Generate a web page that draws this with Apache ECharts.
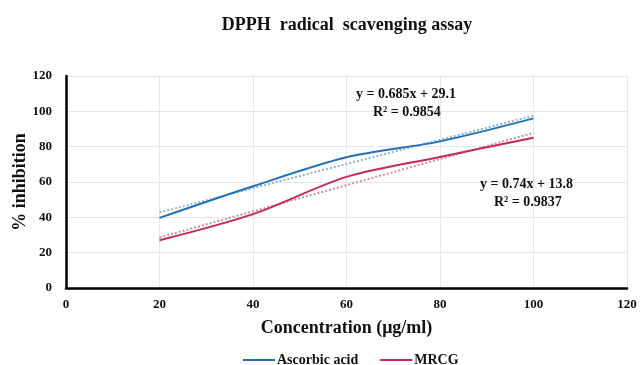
<!DOCTYPE html>
<html>
<head>
<meta charset="utf-8">
<script src="https://cdn.jsdelivr.net/npm/echarts@6/dist/echarts.min.js"></script>
<style>
  html, body { margin: 0; padding: 0; background: #fff; }
  #chart { width: 640px; height: 365px; }
</style>
</head>
<body>
<div id="chart"></div>
<script>
const concentration = [20, 40, 60, 80, 100];
const ascorbicAcid = [39.7, 57.6, 74.0, 83.0, 96.0];
const mrcg = [27.0, 41.8, 62.9, 74.2, 85.0];
// trendline end points (x = 20 and x = 100)
const trendX = [20, 100];
const ascorbicTrend = [42.8, 97.6];
const mrcgTrend = [28.6, 87.8];
const yTicks = [0, 20, 40, 60, 80, 100, 120];
const xTicks = [0, 20, 40, 60, 80, 100, 120];

const serif = '"Liberation Serif", "DejaVu Serif", serif';
const blue = '#2171b5';
const red = '#c8285a';

const pairs = (xs, ys) => xs.map((x, i) => [x, ys[i]]);

const chart = echarts.init(document.getElementById('chart'));
chart.setOption({
  backgroundColor: '#fff',
  animation: false,
  title: {
    text: 'DPPH  radical  scavenging assay',
    left: 342,
    textAlign: 'center',
    top: 11,
    textStyle: { fontFamily: serif, fontSize: 18, fontWeight: 'bold', color: '#111' },
  },
  legend: {
    data: ['Ascorbic acid', 'MRCG'],
    left: 238,
    top: 348,
    itemWidth: 32,
    itemHeight: 2,
    itemGap: 22,
    icon: 'rect',
    textStyle: { fontFamily: serif, fontSize: 14, fontWeight: 'bold', color: '#111', padding: [0, 0, 0, -3] },
  },
  grid: { left: 66, right: 13, top: 76, bottom: 77, containLabel: false, outerBoundsMode: 'none' },
  xAxis: {
    type: 'value',
    min: xTicks[0],
    max: xTicks[xTicks.length - 1],
    interval: 20,
    name: 'Concentration (μg/ml)',
    nameLocation: 'middle',
    nameGap: 31,
    nameMoveOverlap: false,
    nameTextStyle: { fontFamily: serif, fontSize: 18, fontWeight: 'bold', color: '#111' },
    axisLine: { lineStyle: { color: '#000', width: 2.5 } },
    axisTick: { show: false },
    axisLabel: { fontFamily: serif, fontSize: 13, fontWeight: 'bold', color: '#111', margin: 10 },
    splitLine: { show: true, lineStyle: { color: '#e3e6ea', width: 1 } },
  },
  yAxis: {
    type: 'value',
    min: yTicks[0],
    max: yTicks[yTicks.length - 1],
    interval: 20,
    name: '% inhibition',
    nameLocation: 'middle',
    nameGap: 37,
    nameMoveOverlap: false,
    nameRotate: 90,
    nameTextStyle: { fontFamily: serif, fontSize: 18, fontWeight: 'bold', color: '#111' },
    axisLine: { show: true, lineStyle: { color: '#000', width: 2.5 } },
    axisTick: { show: false },
    axisLabel: { fontFamily: serif, fontSize: 13, fontWeight: 'bold', color: '#111', margin: 14 },
    splitLine: { show: true, lineStyle: { color: '#e3e6ea', width: 1 } },
  },
  series: [
    {
      name: 'Ascorbic acid',
      type: 'line',
      data: pairs(concentration, ascorbicAcid),
      smooth: 0.3,
      showSymbol: false,
      itemStyle: { color: blue },
      lineStyle: { color: blue, width: 2 },
      z: 3,
    },
    {
      name: 'MRCG',
      type: 'line',
      data: pairs(concentration, mrcg),
      smooth: 0.3,
      showSymbol: false,
      itemStyle: { color: red },
      lineStyle: { color: red, width: 2 },
      z: 3,
    },
    {
      name: 'Ascorbic trend',
      type: 'line',
      data: pairs(trendX, ascorbicTrend),
      showSymbol: false,
      lineStyle: { color: '#8fb7c9', width: 2, type: [2, 2] },
      z: 2,
    },
    {
      name: 'MRCG trend',
      type: 'line',
      data: pairs(trendX, mrcgTrend),
      showSymbol: false,
      lineStyle: { color: '#c9909f', width: 2, type: [2, 2] },
      z: 2,
    },
  ],
  graphic: [
    {
      type: 'text', left: 356, top: 87, z: 100,
      style: { text: 'y = 0.685x + 29.1', font: 'bold 14px ' + serif, fill: '#111' },
    },
    {
      type: 'text', left: 373, top: 105, z: 100,
      style: { text: 'R² = 0.9854', font: 'bold 14px ' + serif, fill: '#111' },
    },
    {
      type: 'text', left: 480, top: 177, z: 100,
      style: { text: 'y = 0.74x + 13.8', font: 'bold 14px ' + serif, fill: '#111' },
    },
    {
      type: 'text', left: 494, top: 195, z: 100,
      style: { text: 'R² = 0.9837', font: 'bold 14px ' + serif, fill: '#111' },
    },
  ],
});
</script>
</body>
</html>
